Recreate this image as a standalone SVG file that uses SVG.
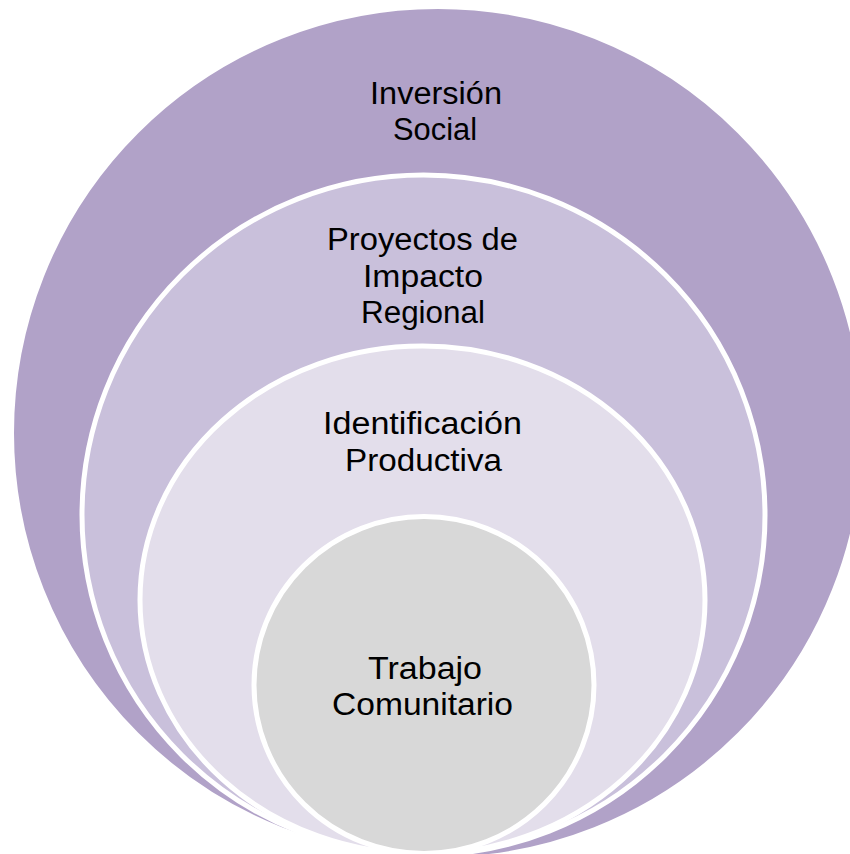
<svg xmlns="http://www.w3.org/2000/svg" width="850" height="854" viewBox="0 0 850 854">
<style>
.ring{stroke:#ffffff;stroke-width:5}
.lbl{font-family:"Liberation Sans","Noto Sans","DejaVu Sans",sans-serif;font-size:31px;fill:#000000;text-anchor:middle}
</style>
<rect width="850" height="854" fill="#ffffff"/>
<g id="n1">
<ellipse cx="438" cy="433" rx="425" ry="425" fill="#B1A2C8" stroke="#ffffff" stroke-width="2"/>
<text class="lbl" x="436" y="104" textLength="132" lengthAdjust="spacingAndGlyphs">Inversión</text>
<text class="lbl" x="435" y="140" textLength="84" lengthAdjust="spacingAndGlyphs">Social</text>
</g>
<g id="n2">
<ellipse class="ring" cx="423.5" cy="515" rx="341.5" ry="340" fill="#C9C0DB"/>
<text class="lbl" x="422.5" y="250" textLength="191" lengthAdjust="spacingAndGlyphs">Proyectos de</text>
<text class="lbl" x="423" y="287" textLength="120" lengthAdjust="spacingAndGlyphs">Impacto</text>
<text class="lbl" x="423" y="323" textLength="124" lengthAdjust="spacingAndGlyphs">Regional</text>
</g>
<g id="n3">
<ellipse class="ring" cx="422.5" cy="600" rx="282.5" ry="254" fill="#E3DEEB"/>
<text class="lbl" x="422.5" y="434" textLength="199" lengthAdjust="spacingAndGlyphs">Identificación</text>
<text class="lbl" x="423.5" y="471" textLength="157" lengthAdjust="spacingAndGlyphs">Productiva</text>
</g>
<g id="n4">
<ellipse class="ring" cx="424" cy="685" rx="170" ry="168.5" fill="#D8D8D8"/>
<text class="lbl" x="425" y="679" textLength="114" lengthAdjust="spacingAndGlyphs">Trabajo</text>
<text class="lbl" x="422.5" y="715" textLength="181" lengthAdjust="spacingAndGlyphs">Comunitario</text>
</g>
<g id="connectors"/>
</svg>
